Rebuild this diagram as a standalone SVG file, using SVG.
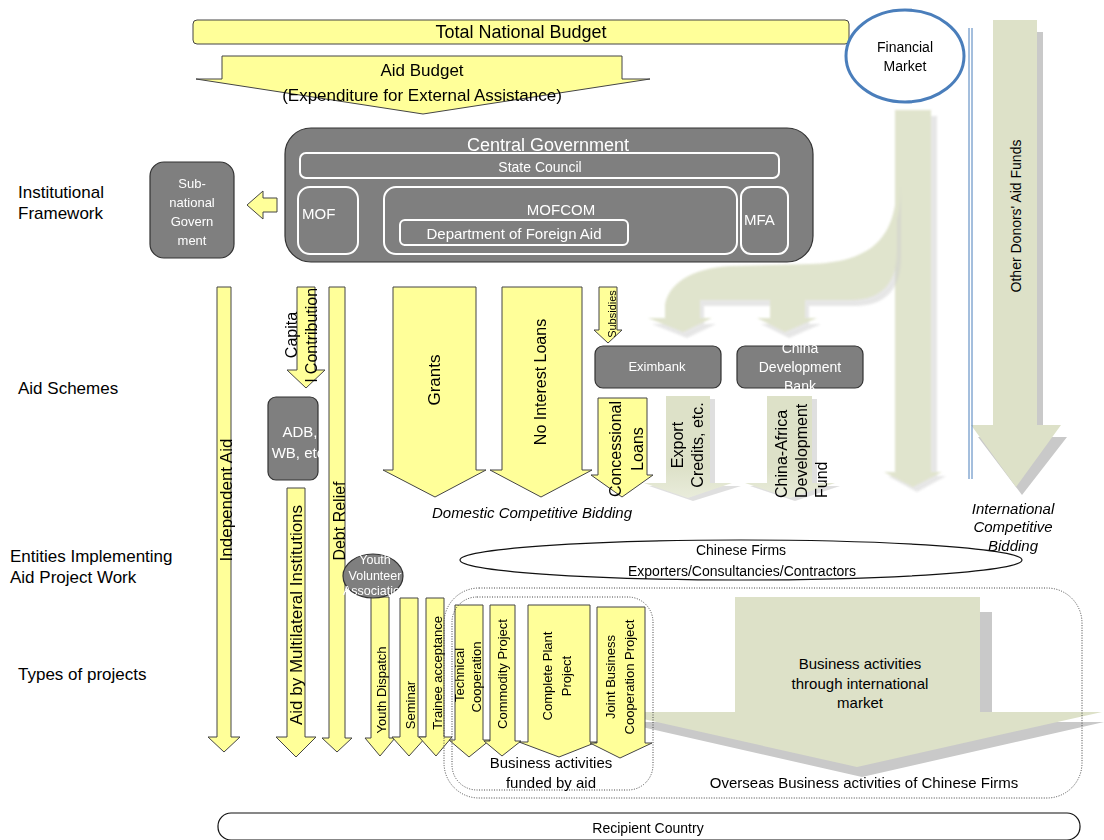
<svg xmlns="http://www.w3.org/2000/svg" width="1104" height="840" viewBox="0 0 1104 840">
<style>
text{font-family:"Liberation Sans",Arial,sans-serif;fill:#000}
.y{fill:#ffff99;stroke:#444;stroke-width:1}
.g{fill:#dde1c8}
.sh{fill:#c9c9c9}
.box{fill:#7f7f7f;stroke:#333;stroke-width:1.2}
.in{fill:none;stroke:#fff;stroke-width:2}
.w{fill:#fff}
.lab{font-size:17px}
.it{font-style:italic;font-size:15px}
.dot{fill:none;stroke:#444;stroke-width:1;stroke-dasharray:1 1.5}
.m{text-anchor:middle}
</style>
<defs>
<linearGradient id="fade" x1="0" y1="0" x2="0" y2="1">
<stop offset="0" stop-color="#dde1c8"/>
<stop offset="0.7" stop-color="#dde1c8"/>
<stop offset="1" stop-color="#e9ecdb"/>
</linearGradient>
<filter id="soft" x="-5%" y="-5%" width="110%" height="110%">
<feGaussianBlur stdDeviation="1.2"/>
</filter>
</defs>

<g id="row-labels" class="lab">
<text x="18" y="198">Institutional</text>
<text x="18" y="219">Framework</text>
<text x="18" y="394">Aid Schemes</text>
<text x="10" y="562">Entities Implementing</text>
<text x="10" y="583">Aid Project Work</text>
<text x="18" y="680">Types of projects</text>
</g>

<g id="connectors">
<!-- market flows (green) -->
<g id="flow-financial-market" opacity="0.9" filter="url(#soft)">
<path class="sh" opacity="0.5" d="M900 116 H937 V476 H946 L917 492 L888 476 H900 Z"/>
<path class="g" d="M895 110 H931 V472 H942 L913 487 L884 472 H895 Z"/>
<path class="sh" opacity="0.5" d="M901 186 C901 246 874 268 814 270 L734 272 C694 274 672 291 669 311 V324 H652 L687 338 L716 324 H704 L704 306 H774 V324 H761 L789 338 L821 324 H809 V306 H854 C889 306 901 286 901 256 Z"/>
<path class="g" d="M897 180 C897 240 870 262 810 264 L730 266 C690 268 668 285 665 305 V318 H648 L683 332 L712 318 H700 L700 300 H770 V318 H757 L785 332 L817 318 H805 V300 H850 C885 300 897 280 897 250 Z"/>
</g>
<g id="flow-other-donors">
<path class="sh" d="M1000 32 H1043 V437 H1067 L1022 495 L978 437 H1000 Z"/>
<path class="g" d="M993 20 H1037 V425 H1061 L1016 487 L971 425 H993 Z"/>
<text class="m" font-size="14" transform="translate(1016,216) rotate(-90)" y="5">Other Donors' Aid Funds</text>
</g>
<g id="flow-intl-market">
<path class="sh" d="M742 612 H992 V722 H1104 L862 777 L620 722 H742 Z"/>
<path class="g" d="M735 597 H980 V712 H1102 L857 767 L612 712 H735 Z"/>
<text class="m" font-size="15" x="860" y="669">Business activities</text>
<text class="m" font-size="15" x="860" y="689">through international</text>
<text class="m" font-size="15" x="860" y="708">market</text>
</g>
<g id="flow-export-credits">
<path class="sh" d="M671 399 H715 V486 H741 L693 501 L649 486 H671 Z" opacity="0.6"/>
<path fill="url(#fade)" d="M666 396 H710 V483 H732 L688 498 L644 483 H666 Z"/>
<text class="m" font-size="16" transform="translate(678,445) rotate(-90)" y="5">Export</text>
<text class="m" font-size="16" transform="translate(698,445) rotate(-90)" y="5">Credits, etc.</text>
</g>
<g id="flow-china-africa">
<path class="sh" d="M772 399 H817 V486 H840 L795 501 L750 486 H772 Z" opacity="0.6"/>
<path fill="url(#fade)" d="M767 396 H812 V483 H835 L790 498 L745 483 H767 Z"/>
<text font-size="16" transform="translate(782,498) rotate(-90)" y="5">China-Africa</text>
<text font-size="16" transform="translate(802,498) rotate(-90)" y="5">Development</text>
<text font-size="16" transform="translate(822,498) rotate(-90)" y="5">Fund</text>
</g>

<!-- budget flows (yellow) -->
<g id="arrow-aid-budget">
<path class="y" d="M222 56 H622 V79 H650 L423 114 L196 79 H222 Z"/>
<text class="m" font-size="17" x="422" y="76">Aid Budget</text>
<text class="m" font-size="17" x="422" y="101">(Expenditure for External Assistance)</text>
</g>
<path id="arrow-subnational" class="y" d="M277 198 H263 V191 L247 205 L263 219 V212 H277 Z"/>
<g id="arrow-independent-aid">
<path class="y" d="M217 287 H231 V737 H240 L224 752 L208 737 H217 Z"/>
<text class="m" font-size="17" transform="translate(226,500) rotate(-90)" y="6">Independent  Aid</text>
</g>
<g id="arrow-capital">
<path class="y" d="M297 287 H315 V370 H325 L306 388 L287 370 H297 Z"/>
<text class="m" font-size="16" transform="translate(292,335) rotate(-90)" y="5">Capita</text>
<text class="m" font-size="16" transform="translate(312,335) rotate(-90)" y="5">l Contribution</text>
</g>
<g id="arrow-multilateral">
<path class="y" d="M287 488 H305 V737 H316 L296 757 L276 737 H287 Z"/>
<text class="m" font-size="17" transform="translate(296,615) rotate(-90)" y="6">Aid by Multilateral Institutions</text>
</g>
<g id="arrow-debt-relief">
<path class="y" d="M329 287 H345 V738 H352 L337 752 L322 738 H329 Z"/>
<text class="m" font-size="16" transform="translate(339,521) rotate(-90)" y="6">Debt Relief</text>
</g>
<g id="arrow-grants">
<path class="y" d="M393 287 H476 V470 H486 L435 497 L383 470 H393 Z"/>
<text class="m" font-size="17" transform="translate(434,380) rotate(-90)" y="6">Grants</text>
</g>
<g id="arrow-no-interest">
<path class="y" d="M502 287 H582 V470 H592 L541 497 L490 470 H502 Z"/>
<text class="m" font-size="16" transform="translate(540,382) rotate(-90)" y="6">No Interest Loans</text>
</g>
<g id="arrow-subsidies">
<path class="y" d="M599 287 H617 V330 H622 L608 343 L594 330 H599 Z"/>
<text class="m" font-size="11" transform="translate(612,314) rotate(-90)" y="4">Subsidies</text>
</g>
<g id="arrow-concessional">
<path class="y" d="M598 398 H647 V475 H653 L622 497 L591 475 H598 Z"/>
<text class="m" font-size="16" transform="translate(615,449) rotate(-90)" y="6">Concessional</text>
<text class="m" font-size="16" transform="translate(637,449) rotate(-90)" y="6">Loans</text>
</g>

<!-- project types -->
<g id="arrow-youth-dispatch">
<path class="y" d="M371 597 H389 V738 H395 L380 756 L365 738 H371 Z"/>
<text class="m" font-size="13" transform="translate(381,690) rotate(-90)" y="5">Youth Dispatch</text>
</g>
<g id="arrow-seminar">
<path class="y" d="M400 598 H418 V737 H426 L409 756 L392 737 H400 Z"/>
<text class="m" font-size="13" transform="translate(410,705) rotate(-90)" y="5">Seminar</text>
</g>
<g id="arrow-trainee">
<path class="y" d="M426 598 H444 V737 H452 L436 756 L419 737 H426 Z"/>
<text class="m" font-size="13" transform="translate(437,673) rotate(-90)" y="5">Trainee  acceptance</text>
</g>
<g id="arrow-technical">
<path class="y" d="M455 605 H483 V740 H490 L469 757 L449 740 H455 Z"/>
<text class="m" font-size="13" transform="translate(459,675) rotate(-90)" y="5">Technical</text>
<text class="m" font-size="13" transform="translate(476,677) rotate(-90)" y="5">Cooperation</text>
</g>
<g id="arrow-commodity">
<path class="y" d="M490 605 H515 V741 H521 L502 756 L484 741 H490 Z"/>
<text class="m" font-size="13" transform="translate(502,674) rotate(-90)" y="5">Commodity Project</text>
</g>
<g id="arrow-complete-plant">
<path class="y" d="M528 605 H590 V742 H597 L559 757 L519 742 H528 Z"/>
<text class="m" font-size="13" transform="translate(547,676) rotate(-90)" y="5">Complete Plant</text>
<text class="m" font-size="13" transform="translate(566,676) rotate(-90)" y="5">Project</text>
</g>
<g id="arrow-joint-business">
<path class="y" d="M597 607 H645 V743 H652 L620 758 L590 743 H597 Z"/>
<text class="m" font-size="13" transform="translate(610,677) rotate(-90)" y="5">Joint Business</text>
<text class="m" font-size="13" transform="translate(629,677) rotate(-90)" y="5">Cooperation Project</text>
</g>
</g>

<g id="total-budget">
<rect class="y" x="193" y="20" width="656" height="24" rx="4"/>
<text class="m" font-size="18" x="521" y="38">Total National Budget</text>
</g>

<g id="financial-market">
<ellipse cx="905" cy="56" rx="59" ry="46" fill="#fff" stroke="#4a7ebb" stroke-width="3"/>
<text class="m" font-size="14" x="905" y="52">Financial</text>
<text class="m" font-size="14" x="905" y="71">Market</text>
</g>

<g id="separator">
<line x1="969" y1="28" x2="969" y2="479" stroke="#4a7ebb" stroke-width="1"/>
<line x1="972" y1="28" x2="972" y2="479" stroke="#4a7ebb" stroke-width="1"/>
</g>

<g id="central-government">
<rect class="box" x="285" y="128" width="528" height="134" rx="26"/>
<text class="m w" font-size="18" x="548" y="151">Central Government</text>
<rect class="in" x="300" y="153" width="479" height="25" rx="6"/>
<text class="m w" font-size="14" x="540" y="172">State Council</text>
<rect class="in" x="298" y="187" width="60" height="67" rx="12"/>
<text class="w" font-size="15" x="302" y="219">MOF</text>
<rect class="in" x="384" y="187" width="353" height="67" rx="12"/>
<text class="m w" font-size="15" x="561" y="215">MOFCOM</text>
<rect class="in" x="400" y="220" width="228" height="25" rx="5"/>
<text class="m w" font-size="15" x="514" y="239">Department of Foreign Aid</text>
<rect class="in" x="741" y="187" width="47" height="67" rx="10"/>
<text class="w" font-size="15" x="744" y="225">MFA</text>
</g>

<g id="sub-national">
<rect class="box" x="150" y="162" width="84" height="96" rx="14"/>
<text class="m w" font-size="13" x="192" y="188">Sub-</text>
<text class="m w" font-size="13" x="192" y="207">national</text>
<text class="m w" font-size="13" x="192" y="226">Govern</text>
<text class="m w" font-size="13" x="192" y="245">ment</text>
</g>

<g id="adb-wb">
<rect class="box" x="268" y="397" width="50" height="83" rx="8"/>
<text class="m w" font-size="15" x="300" y="437">ADB,</text>
<text class="m w" font-size="15" x="300" y="458">WB, etc.</text>
</g>

<g id="eximbank">
<rect class="box" x="595" y="346" width="126" height="42" rx="8"/>
<text class="m w" font-size="13" x="657" y="371">Eximbank</text>
</g>

<g id="china-development-bank">
<rect class="box" x="737" y="346" width="126" height="42" rx="8"/>
<text class="m w" font-size="14" x="800" y="353">China</text>
<text class="m w" font-size="14" x="800" y="372">Development</text>
<text class="m w" font-size="14" x="800" y="391">Bank</text>
</g>

<g id="bidding-labels">
<text class="m it" x="532" y="518">Domestic Competitive Bidding</text>
<text class="m it" font-size="14" x="1013" y="514">International</text>
<text class="m it" font-size="14" x="1013" y="532">Competitive</text>
<text class="m it" font-size="14" x="1013" y="551">Bidding</text>
</g>

<g id="chinese-firms">
<ellipse cx="741" cy="560" rx="281" ry="20" fill="none" stroke="#111" stroke-width="1.2"/>
<text class="m" font-size="14" x="741" y="555">Chinese Firms</text>
<text class="m" font-size="14" x="742" y="576">Exporters/Consultancies/Contractors</text>
</g>

<g id="youth-volunteer">
<ellipse class="box" cx="373" cy="576" rx="30" ry="22"/>
<text class="m w" font-size="12.5" x="375" y="564">Youth</text>
<text class="m w" font-size="12.5" x="375" y="580">Volunteer</text>
<text class="m w" font-size="12.5" x="375" y="595">Association</text>
</g>

<g id="overseas-business">
<rect class="dot" x="444" y="588" width="638" height="210" rx="35"/>
<text class="m" font-size="15" x="864" y="788">Overseas Business activities of Chinese Firms</text>
</g>

<g id="aid-business">
<rect class="dot" x="452" y="597" width="201" height="193" rx="25"/>
<text class="m" font-size="15" x="551" y="768">Business activities</text>
<text class="m" font-size="15" x="551" y="788">funded by aid</text>
</g>

<g id="recipient-country">
<rect x="218" y="813" width="862" height="27" rx="13" fill="#fff" stroke="#111" stroke-width="1.2"/>
<text class="m" font-size="14" x="648" y="833">Recipient Country</text>
</g>
</svg>
